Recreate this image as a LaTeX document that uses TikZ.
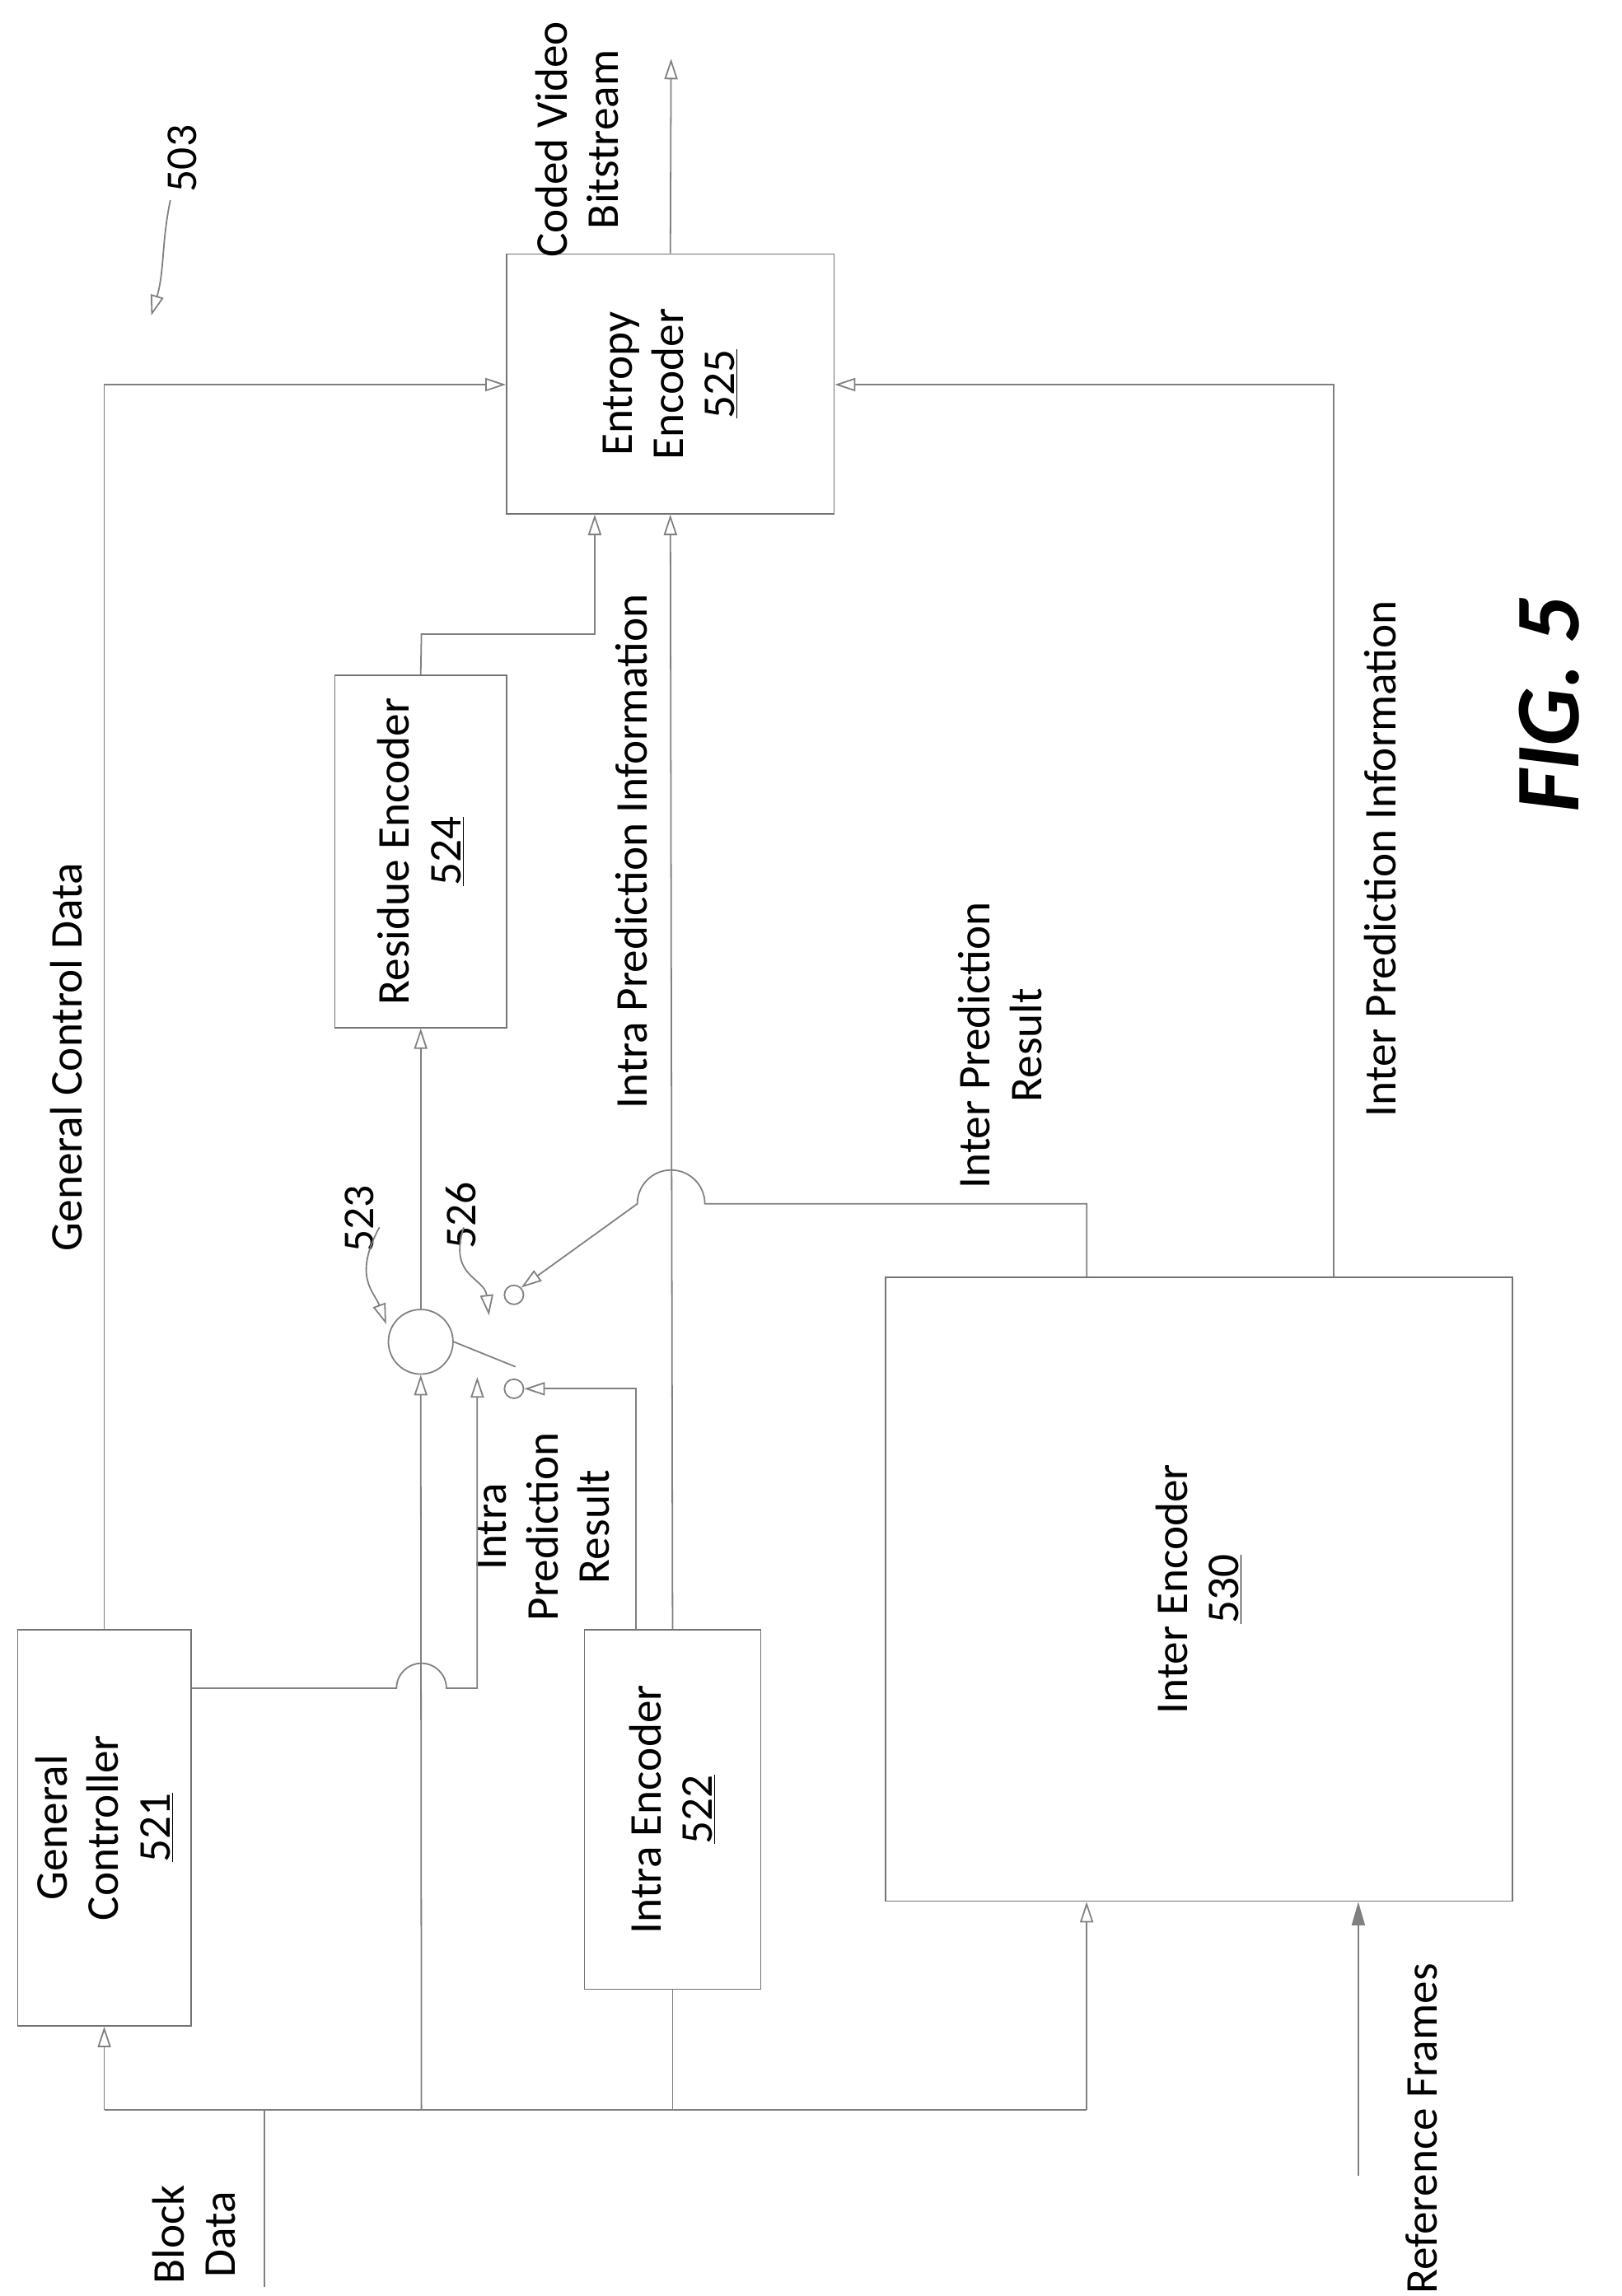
\documentclass[tikz,border=0pt]{standalone}
\usepackage{fontspec}
\setmainfont{Carlito}
\usetikzlibrary{arrows.meta}
\begin{document}
\begin{tikzpicture}[x=1pt,y=-1pt,
  box/.style={draw=black!55,line width=1pt,inner sep=0pt},
  ln/.style={draw=black!50,line width=1pt},
  oa/.style={-{Triangle[open,length=14pt,width=9pt]}},
  fa/.style={-{Triangle[length=16pt,width=9pt]}},
  txt/.style={rotate=90,align=center,font=\fontsize{31}{35}\selectfont},
  num/.style={rotate=90,font=\fontsize{30}{34}\selectfont},
  sm/.style={circle,draw=black!50,line width=1pt,minimum size=13pt,inner sep=0pt}]
\useasboundingbox (0,0) rectangle (1104,1564);
% boxes
\node[box,minimum width=118pt,minimum height=270pt] (gc) at (71,1245) {};
\node[txt] (gct) at (gc.center) {General\\Controller\\\underline{521}};
\node[box,minimum width=120pt,minimum height=245pt] (ie) at (458,1232.5) {};
\node[txt] (iet) at (ie.center) {Intra Encoder\\\underline{522}};
\node[box,minimum width=427pt,minimum height=425pt] (xe) at (816.5,1082.5) {};
\node[txt] (xet) at (xe.center) {Inter Encoder\\\underline{530}};
\node[box,minimum width=117pt,minimum height=240pt] (re) at (286.5,580) {};
\node[txt] (ret) at (re.center) {Residue Encoder\\\underline{524}};
\node[box,minimum width=223pt,minimum height=177pt] (ee) at (456.5,261.5) {};
\node[txt] (eet) at (ee.center) {Entropy\\Encoder\\\underline{525}};
\node[circle,draw=black!50,line width=1pt,minimum size=44pt,inner sep=0pt] (sum) at (286.5,914) {};
\node[sm] (s1) at (350,882) {};
\node[sm] (s2) at (350,946) {};
% coordinates
\coordinate (bd) at (180,1558);
\coordinate (out) at (457,40);
\coordinate (rf) at (925,1482);
% labels
\node[txt] (lbd) at (132,1522) {Block\\Data};
\node[txt] (lcv) at (393,95) {Coded Video\\Bitstream};
\node[txt] (lgc) at (45,720) {General Control Data};
\node[txt] (lia) at (430,580) {Intra Prediction Information};
\node[txt] (lxa) at (940,585) {Inter Prediction Information};
\node[txt] (lxr) at (681,712) {Inter Prediction\\Result};
\node[txt] (lir) at (370,1040) {Intra\\Prediction\\Result};
\node[txt] (lrf) at (968,1450) {Reference Frames};
\node[num] (n503) at (124,108) {503};
\node[num] (n523) at (245,830) {523};
\node[num] (n526) at (314,828) {526};
\node[rotate=90,font=\fontsize{62}{70}\selectfont\bfseries\itshape] (fig) at (1055,480) {FIG. 5};
% bus
\draw[ln] (bd) -- (180,1437);
\draw[ln] (gc.south |- 0,1437) -- (740,1437);
\draw[ln,oa] (gc.south |- 0,1437) -- (gc.south);
\draw[ln,oa] (287,1437) -- (sum.south);
\draw[ln] (ie.south |- 0,1437) -- (ie.south);
\draw[ln,oa] (740,1437) -- (740,0 |- xe.south);
\draw[ln,fa] (rf) -- (925,0 |- xe.south);
% general control
\draw[ln,oa] (gc.north) -- (gc.north |- 0,262) -- (ee.west |- 0,262);
\draw[ln,oa] (gc.east |- 0,1150) -- (270,1150) arc[start angle=180,end angle=0,radius=17pt] -- (325,1150) -- (325,938);
% sum to residue to entropy
\draw[ln,oa] (sum.north) -- (re.south);
\draw[ln,oa] (re.north) -- (287,432) -- (405,432) -- (405,0 |- ee.south);
% intra
\draw[ln,oa] (ie.north) -- (ee.south);
\draw[ln,oa] (433,0 |- ie.north) -- (433,946) -- (s2.east);
% switch arm
\draw[ln] (sum.east) -- (351,931);
% inter
\draw[ln,oa] (740,0 |- xe.north) -- (740,820) -- (480,820) arc[start angle=0,end angle=180,radius=23pt] -- (s1.north east);
\draw[ln,oa] (908,0 |- xe.north) -- (908,262) -- (ee.east |- 0,262);
% output
\draw[ln,oa] (ee.north) -- (out);
% reference arrows
\draw[ln,oa] (n503.west) ++(-8,2) .. controls (110,165) and (112,185) .. (103,215);
\draw[ln,oa] (n523.south) ++(0,6) .. controls (240,870) and (255,880) .. (263,902);
\draw[ln,oa] (n526.south) ++(-12,8) .. controls (305,870) and (330,870) .. (333,896);
\end{tikzpicture}
\end{document}
